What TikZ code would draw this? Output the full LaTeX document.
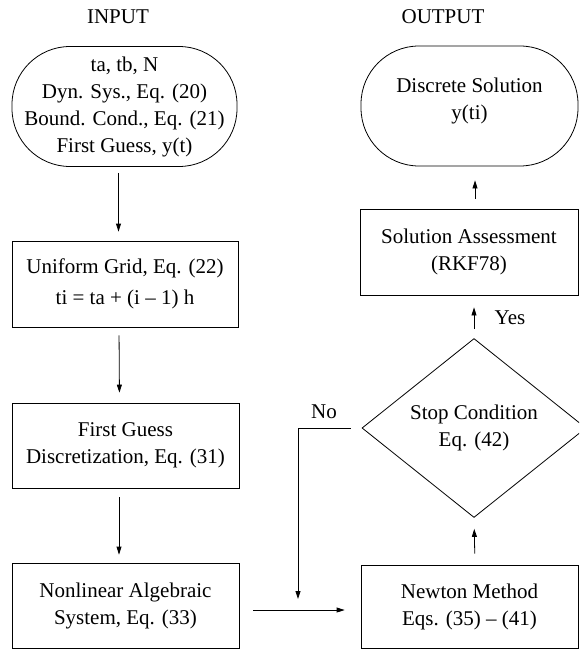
\documentclass[tikz,border=0pt]{standalone}
\usepackage{fontspec}
\setmainfont{Liberation Serif}
\usetikzlibrary{shapes.geometric,arrows.meta}
\begin{document}
\begin{tikzpicture}[x=1pt,y=-1pt,
  every node/.style={font=\fontsize{21}{27}\selectfont, align=center, inner sep=0pt},
  stadium/.style={draw, line width=0.8pt, rounded corners=58pt, minimum width=#1, minimum height=120pt},
  procbox/.style={draw, line width=0.8pt, minimum width=#1, minimum height=86pt},
  decision/.style={draw, line width=0.8pt, diamond, minimum width=224pt, minimum height=179pt},
  arr/.style={line width=0.8pt, -{Triangle[length=8pt,width=5pt]}},
  plain/.style={line width=0.8pt}]
\useasboundingbox (0,0) rectangle (579,650);
\clip (0,0) rectangle (579,650);
% titles
\node (tin) at (118,17) {INPUT};
\node (tout) at (443,17) {OUTPUT};
% left column
\node[stadium=225pt] (in) at (124.5,106.5) {ta, tb, N\\Dyn. Sys., Eq. (20)\\Bound. Cond., Eq. (21)\\First Guess, y(t)};
\node[procbox=226pt] (ug) at (125,284) {Uniform Grid, Eq. (22)\\[4pt]ti = ta + (i -- 1) h};
\node[procbox=227pt, minimum height=85pt] (fg) at (125.5,445.5) {First Guess\\Discretization, Eq. (31)};
\node[procbox=227pt, minimum height=85pt] (nl) at (125.5,605.5) {Nonlinear Algebraic\\System, Eq. (33)};
% right column
\node[stadium=217pt] (out) at (469.5,106) {Discrete Solution\\y(ti)\\[-12pt]{}};
\node[procbox=218pt] (sa) at (469,252) {Solution Assessment\\(RKF78)};
\node[decision] (sc) at (474,428) {Stop Condition\\Eq. (42)};
\node[procbox=217pt, minimum height=83pt] (nm) at (469.5,606.5) {Newton Method\\Eqs. (35) -- (41)};
% labels
\node (no) at (324,412) {No};
\node (yes) at (510,318) {Yes};
\coordinate (join) at (298,610);
% connectors
\draw[arr, shorten <=6pt, shorten >=9pt] ([xshift=-6pt]in.south) -- ([xshift=-6.5pt]ug.north);
\draw[arr, shorten <=8pt, shorten >=10pt] ([xshift=-6pt]ug.south) -- ([xshift=-6pt]fg.north);
\draw[arr, shorten <=9pt, shorten >=8pt] ([xshift=-6.5pt]fg.south) -- ([xshift=-6.5pt]nl.north);
\draw[arr, shorten <=14pt, shorten >=16pt] ([yshift=-4.5pt]nl.east) -- ([yshift=-3.5pt]nm.west);
\draw[arr, shorten <=11pt, shorten >=11pt] ([xshift=5.5pt]nm.north) -- (sc.south);
\draw[arr, shorten <=9pt, shorten >=12pt] (sc.north) -- ([xshift=5pt]sa.south);
\draw[arr, shorten <=10pt, shorten >=14pt] ([xshift=6pt]sa.north) -- ([xshift=5.5pt]out.south);
\draw[arr, shorten <=11pt, shorten >=11pt] (sc.west) -| (join);
\end{tikzpicture}
\end{document}
